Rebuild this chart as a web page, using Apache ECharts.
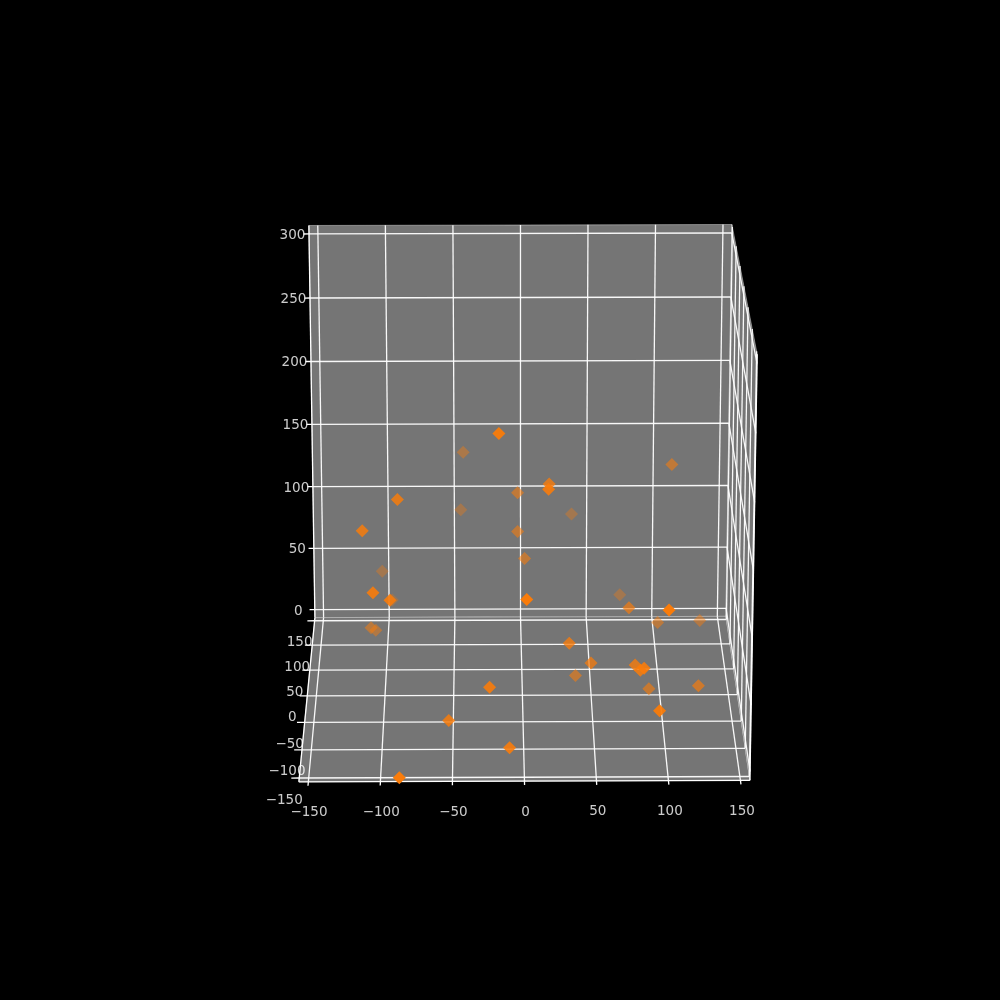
<!DOCTYPE html><html><head><meta charset="utf-8"><style>html,body{margin:0;background:#000}#c{width:1000px;height:1000px}</style>
<script src="https://cdn.jsdelivr.net/npm/echarts@6/dist/echarts.min.js"></script></head><body><div id="c"></div><script>
const xValues=[-17,-43,110,19,18,-3,-89,-45,38,-114,-3,2,-104,-106,74,-97,-94,2,77,101,100,132,-111,-108,33,49,80,85,83,39,-24,92,127,-53,95,-10,-87];
const yValues=[-57,126,66,-12,-51,61,-33,132,130,-40,52,46,118,-72,111,130,-74,-112,-3,-115,49,68,50,68,-47,-33,-52,-90,-72,19,-93,-2,-21,-82,-118,-106,-149];
const zValues=[216,138,149,162,172,129,158,90,87,137,102,83,46,102,29,18,97,112,63,105,31,25,27,18,53,32,38,51,42,1,38,-1,9,8,30,-3,-7];
const xTicks=[-150,-100,-50,0,50,100,150];
const yTicks=[-150,-100,-50,0,50,100,150];
const zTicks=[0,50,100,150,200,250,300];
// camera of the 3D view
const cx=522.4,cy=494.1,f=4602,D=21.08,bx=1,by=1.049,bz=.9875,e=18.75*Math.PI/180,dl=.5*Math.PI/180,L=156.6;
const s=Math.sin(e),c=Math.cos(e),sd=Math.sin(dl),cd=Math.cos(dl);
const u=[cd,-sd,0],v=[s*sd,s*cd,c],w=[-sd*c,-cd*c,s];
const dot=(a,b)=>a[0]*b[0]+a[1]*b[1]+a[2]*b[2];
function norm(x,y,z){return[x/L*bx,y/L*by,(z-150)/L*bz]}
function P(x,y,z){const p=norm(x,y,z),d=D-dot(w,p);return[cx+f*dot(u,p)/d,cy-f*dot(v,p)/d]}
const z0=150-L,z1=150+L;
const lines=[];const seg=(a,b,k)=>{const p=P(...a),q=P(...b);lines.push([p[0],p[1],q[0],q[1],k])};
for(const t of xTicks){seg([t,L,z0],[t,L,z1],.95);seg([t,-L,z0],[t,L,z0],.95);seg([t,-L-7,z0],[t,-L,z0],1)}
for(const t of yTicks){seg([-L,t,z0],[L,t,z0],.95);seg([-L-5.5,t,z0],[-L,t,z0],1);seg([L,t,z0],[L,t,z1],.95)}
for(const t of zTicks){seg([-L,L,t],[L,L,t],.95);seg([-L-4,L,t],[-L,L,t],1);seg([L,L,t],[L,-L,t],.95)}
[[[-L,-L,z0],[L,-L,z0]],[[-L,-L,z0],[-L,L,z0]],[[-L,L,z0],[-L,L,z1]],[[L,-L,z0],[L,-L,z1]]].forEach(a=>seg(a[0],a[1],1));
const panes=[[[-L,L,z0],[L,L,z0],[L,L,z1],[-L,L,z1]],[[-L,-L,z0],[L,-L,z0],[L,L,z0],[-L,L,z0]],[[L,-L,z0],[L,L,z0],[L,L,z1],[L,-L,z1]]];
const dep=xValues.map((x,i)=>dot(w,norm(x,yValues[i],zValues[i]))),a0=Math.min(...dep),a1=Math.max(...dep);
const pts=xValues.map((x,i)=>({value:P(x,yValues[i],zValues[i]),d:dep[i]})).sort((a,b)=>a.d-b.d).map(o=>({value:o.value,itemStyle:{opacity:.3+.7*(o.d-a0)/(a1-a0)}}));
const labs=[];const fmt=n=>String(n).replace('-','\u2212');
for(const t of xTicks){const p=P(t,-L-7,z0);labs.push({value:[p[0]+1,p[1]+27],t:fmt(t)})}
for(const t of yTicks){const q=P(-L,t,z0);labs.push({value:[q[0]-15,q[1]+22],t:fmt(t)})}
for(const t of zTicks){const p=P(-L,L,t);labs.push({value:[p[0]-16.5,p[1]+1.5],t:fmt(t)})}
const chart=echarts.init(document.getElementById('c'));
chart.setOption({animation:false,backgroundColor:'#000',grid:{left:0,right:0,top:0,bottom:0},xAxis:{type:'value',min:0,max:1000,show:false},yAxis:{type:'value',min:0,max:1000,inverse:true,show:false},series:[
{type:'custom',silent:true,data:panes.map((_,i)=>[i]),renderItem:(ps,api)=>({type:'polygon',shape:{points:panes[api.value(0)].map(a=>api.coord(P(...a)))},style:{fill:'#757575',stroke:'rgba(255,255,255,.4)',lineWidth:1}})},
{type:'custom',silent:true,data:lines,renderItem:(ps,api)=>{const a=api.coord([api.value(0),api.value(1)]),b=api.coord([api.value(2),api.value(3)]);return{type:'line',shape:{x1:a[0],y1:a[1],x2:b[0],y2:b[1]},style:{stroke:'rgba(255,255,255,'+api.value(4)+')',lineWidth:1.3}}}},
{type:'scatter',silent:true,symbol:'diamond',symbolSize:13,itemStyle:{color:'#f97c0a'},data:pts},
{type:'scatter',silent:true,symbolSize:0,data:labs,label:{show:true,position:'inside',color:'#fff',fontFamily:'DejaVu Sans',fontSize:13.5,formatter:o=>o.data.t}}
]});
</script></body></html>
